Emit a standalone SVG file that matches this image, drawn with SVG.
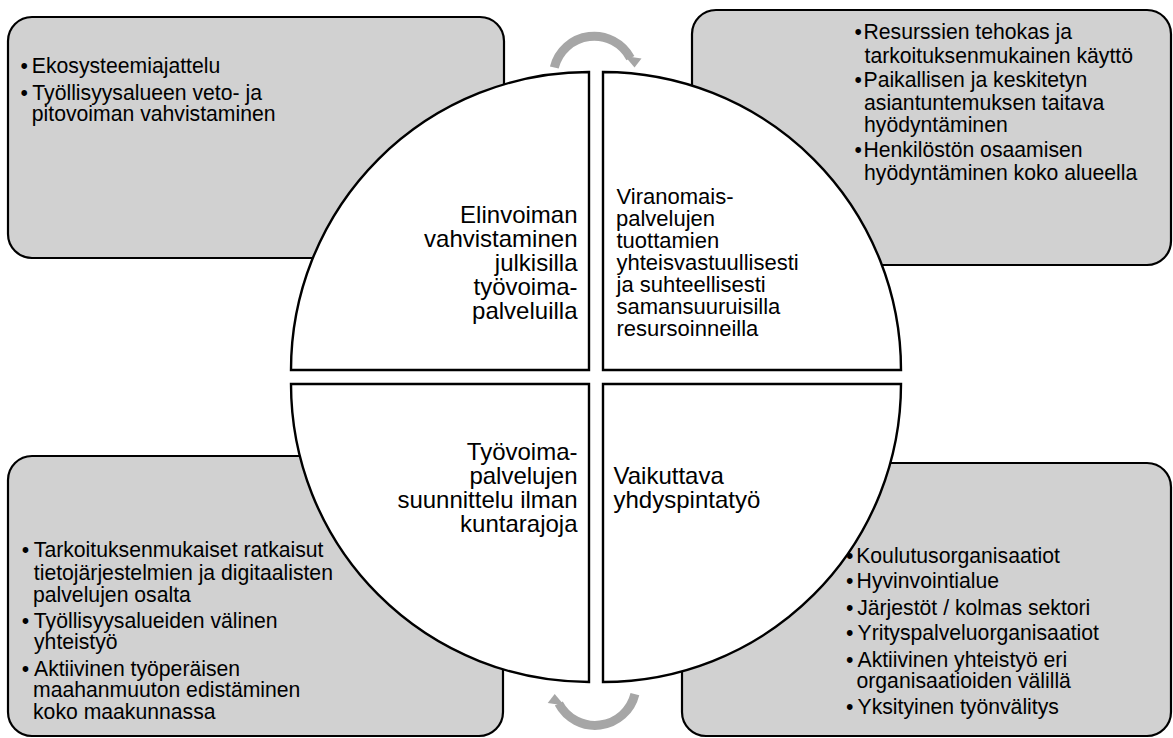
<svg xmlns="http://www.w3.org/2000/svg" width="1173" height="738" viewBox="0 0 1173 738">
<defs>
<style>
.box{fill:#d1d1d1;stroke:#000;stroke-width:2.2}
.q{fill:#fff;stroke:#000;stroke-width:2.4;stroke-linejoin:miter}
.t{font-family:"Liberation Sans",Arial,sans-serif;font-size:21.2px;fill:#000}
.c{font-family:"Liberation Sans",Arial,sans-serif;font-size:24px;fill:#000}
.c2{font-family:"Liberation Sans",Arial,sans-serif;font-size:22px;fill:#000}
.b{text-anchor:middle}
.r{text-anchor:end}
.arc{fill:none;stroke:#a6a6a6;stroke-width:9}
.head{fill:#a6a6a6}
</style>
</defs>
<rect width="1173" height="738" fill="#fff"/>

<g id="box-top-left">
<rect class="box" x="8" y="17" width="496" height="241" rx="24"/>
<text class="t b" x="24.2" y="73">•</text>
<text class="t" x="31.8" y="73">Ekosysteemiajattelu</text>
<text class="t b" x="24.2" y="100">•</text>
<text class="t" x="32.3" y="100">Työllisyysalueen veto-  ja</text>
<text class="t" x="31.8" y="121">pitovoiman vahvistaminen</text>
</g>

<g id="box-top-right">
<rect class="box" x="692" y="10" width="479" height="255" rx="24"/>
<text class="t b" x="858.3" y="39">•</text>
<text class="t" x="863.5" y="39">Resurssien tehokas ja</text>
<text class="t" x="864.5" y="63">tarkoituksenmukainen käyttö</text>
<text class="t b" x="858.3" y="87">•</text>
<text class="t" x="863.5" y="87">Paikallisen ja keskitetyn</text>
<text class="t" x="864" y="110">asiantuntemuksen taitava</text>
<text class="t" x="864" y="132">hyödyntäminen</text>
<text class="t b" x="858.3" y="157">•</text>
<text class="t" x="863.5" y="157">Henkilöstön osaamisen</text>
<text class="t" x="864" y="180">hyödyntäminen koko alueella</text>
</g>

<g id="box-bottom-left">
<rect class="box" x="8" y="456" width="495" height="280" rx="24"/>
<text class="t b" x="25.5" y="557">•</text>
<text class="t" x="33.8" y="557">Tarkoituksenmukaiset ratkaisut</text>
<text class="t" x="33.8" y="580">tietojärjestelmien ja digitaalisten</text>
<text class="t" x="33" y="602">palvelujen osalta</text>
<text class="t b" x="25.5" y="628">•</text>
<text class="t" x="33.8" y="628">Työllisyysalueiden välinen</text>
<text class="t" x="34" y="649">yhteistyö</text>
<text class="t b" x="25.5" y="676">•</text>
<text class="t" x="34" y="676">Aktiivinen työperäisen</text>
<text class="t" x="33" y="697">maahanmuuton edistäminen</text>
<text class="t" x="33" y="719">koko maakunnassa</text>
</g>

<g id="box-bottom-right">
<rect class="box" x="682" y="463" width="489" height="273" rx="24"/>
<text class="t" x="856.2" y="563">Koulutusorganisaatiot</text>
<text class="t b" x="849.7" y="588">•</text>
<text class="t" x="856.6" y="588">Hyvinvointialue</text>
<text class="t b" x="849.7" y="615">•</text>
<text class="t" x="857.2" y="615">Järjestöt / kolmas sektori</text>
<text class="t b" x="849.7" y="640">•</text>
<text class="t" x="857.5" y="640">Yrityspalveluorganisaatiot</text>
<text class="t b" x="849.7" y="667">•</text>
<text class="t" x="857.5" y="667">Aktiivinen yhteistyö eri</text>
<text class="t" x="856.5" y="688">organisaatioiden välillä</text>
<text class="t b" x="849.7" y="714">•</text>
<text class="t" x="857.5" y="714">Yksityinen työnvälitys</text>
</g>

<g id="quadrant-top-left">
<path class="q" d="M589 370 L291 370 A298 298 0 0 1 589 72 Z"/>
<text class="c r" x="577.5" y="223">Elinvoiman</text>
<text class="c r" x="577.5" y="247">vahvistaminen</text>
<text class="c r" x="577.5" y="271">julkisilla</text>
<text class="c r" x="577.5" y="295">työvoima-</text>
<text class="c r" x="577.5" y="319">palveluilla</text>
</g>

<g id="quadrant-top-right">
<path class="q" d="M603 370 L603 72 A298 298 0 0 1 901 370 Z"/>
<text class="c2" x="616.5" y="204">Viranomais-</text>
<text class="c2" x="616" y="226">palvelujen</text>
<text class="c2" x="616.5" y="248">tuottamien</text>
<text class="c2" x="616.5" y="270">yhteisvastuullisesti</text>
<text class="c2" x="616.5" y="292">ja suhteellisesti</text>
<text class="c2" x="616.5" y="314">samansuuruisilla</text>
<text class="c2" x="616.5" y="336">resursoinneilla</text>
</g>

<g id="quadrant-bottom-left">
<path class="q" d="M589 384 L589 682 A298 298 0 0 1 291 384 Z"/>
<text class="c r" x="577.5" y="460">Työvoima-</text>
<text class="c r" x="577.5" y="484">palvelujen</text>
<text class="c r" x="577.5" y="508">suunnittelu ilman</text>
<text class="c r" x="577.5" y="532">kuntarajoja</text>
</g>

<g id="quadrant-bottom-right">
<path class="q" d="M603 384 L901 384 A298 298 0 0 1 603 682 Z"/>
<text class="c" x="613.5" y="484">Vaikuttava</text>
<text class="c" x="613.5" y="508">yhdyspintatyö</text>
</g>

<g id="connectors">
<g id="arrow-top">
<path class="arc" d="M554.3 67.5 A41 41 0 0 1 630.4 58.1"/>
<polygon class="head" points="624.8,56 641.5,58.6 634.5,67.5"/>
</g>
<g id="arrow-bottom" transform="rotate(180 594.6 380.8)">
<path class="arc" d="M554.3 67.5 A41 41 0 0 1 630.4 58.1"/>
<polygon class="head" points="624.8,56 641.5,58.6 634.5,67.5"/>
</g>
</g>

<text class="t b" x="849.7" y="563">•</text>
</svg>
